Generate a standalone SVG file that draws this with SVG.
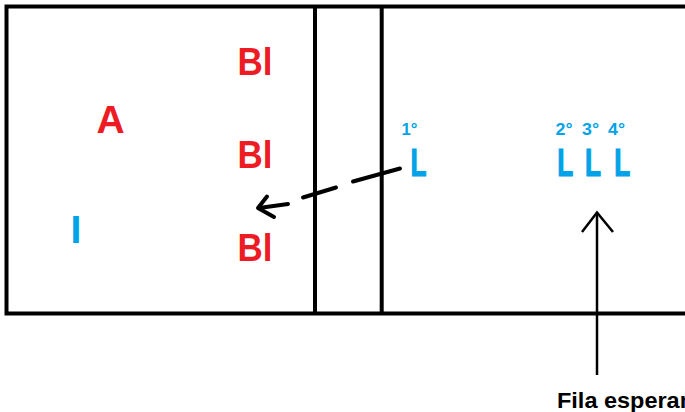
<svg xmlns="http://www.w3.org/2000/svg" width="685" height="412" viewBox="0 0 685 412">
  <style>
    .wall { fill: none; stroke: #000; stroke-width: 4; }
    .red { fill: #ED1C24; font-family: "Liberation Sans", Arial, sans-serif; font-weight: bold; font-size: 39px; }
    .blue { fill: #00A2E8; font-family: "Liberation Sans", Arial, sans-serif; font-weight: bold; font-size: 39px; }
    .thick { stroke: #00A2E8; stroke-width: 1.2px; }
    .ord { fill: #00A2E8; font-family: "Liberation Sans", Arial, sans-serif; font-weight: bold; font-size: 17px; }
    .caption { fill: #000; font-family: "Liberation Sans", Arial, sans-serif; font-weight: bold; font-size: 22px; }
    .dash { fill: none; stroke: #000; stroke-width: 4; stroke-linecap: round; stroke-linejoin: round; }
    .thin { fill: none; stroke: #000; stroke-width: 2.5; stroke-linecap: butt; stroke-linejoin: miter; }
  </style>

  <rect width="685" height="412" fill="#fff"/>

  <!-- room outline and partitions -->
  <g id="room">
    <path class="wall" d="M690,6.5 H6.5 V313.5 H690"/>
    <line class="wall" x1="315" y1="6.5" x2="315" y2="313.5"/>
    <line class="wall" x1="381.7" y1="6.5" x2="381.7" y2="313.5"/>
  </g>

  <!-- left area -->
  <g id="node-a"><text class="red" x="96.5" y="133">A</text></g>
  <g id="node-i"><text class="blue" x="70.5" y="243">I</text></g>
  <g id="node-bl1"><text class="red" x="237.5" y="75" textLength="35" lengthAdjust="spacingAndGlyphs">Bl</text></g>
  <g id="node-bl2"><text class="red" x="237.5" y="168" textLength="35" lengthAdjust="spacingAndGlyphs">Bl</text></g>
  <g id="node-bl3"><text class="red" x="237.5" y="261" textLength="35" lengthAdjust="spacingAndGlyphs">Bl</text></g>

  <!-- queue -->
  <g id="node-l1">
    <text class="ord" x="401.5" y="135" textLength="16" lengthAdjust="spacingAndGlyphs">1°</text>
    <text class="blue thick" x="410.5" y="176" textLength="16" lengthAdjust="spacingAndGlyphs">L</text>
  </g>
  <g id="node-l2">
    <text class="ord" x="555.5" y="135" textLength="17" lengthAdjust="spacingAndGlyphs">2°</text>
    <text class="blue thick" x="557.3" y="176" textLength="16" lengthAdjust="spacingAndGlyphs">L</text>
  </g>
  <g id="node-l3">
    <text class="ord" x="582" y="135" textLength="17" lengthAdjust="spacingAndGlyphs">3°</text>
    <text class="blue thick" x="585" y="176" textLength="16" lengthAdjust="spacingAndGlyphs">L</text>
  </g>
  <g id="node-l4">
    <text class="ord" x="608" y="135" textLength="17" lengthAdjust="spacingAndGlyphs">4°</text>
    <text class="blue thick" x="614.3" y="176" textLength="16" lengthAdjust="spacingAndGlyphs">L</text>
  </g>

  <g id="node-caption"><text class="caption" x="557" y="408" textLength="137" lengthAdjust="spacingAndGlyphs">Fila esperan</text></g>

  <!-- connectors -->
  <g id="connectors">
    <line class="dash" x1="400" y1="168.5" x2="353" y2="181.5"/>
    <line class="dash" x1="336" y1="187.5" x2="303" y2="197.5"/>
    <line class="dash" x1="288" y1="204" x2="259" y2="208"/>
    <polyline class="dash" points="267,196.5 258,208 274,217"/>
    <line class="thin" x1="597" y1="375" x2="597" y2="213"/>
    <polyline class="thin" points="582,232 597,212.5 613,232"/>
  </g>
</svg>
